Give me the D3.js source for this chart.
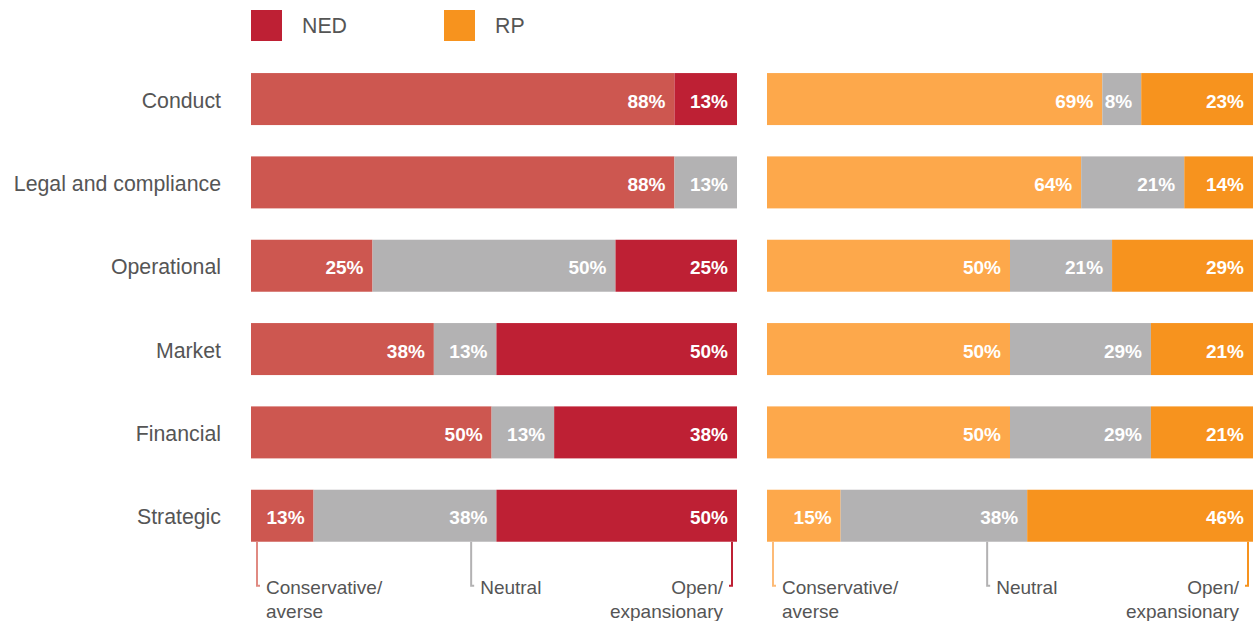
<!DOCTYPE html>
<html>
<head>
<meta charset="utf-8">
<script src="https://cdn.jsdelivr.net/npm/d3@7"></script>
<style>
  html, body { margin: 0; padding: 0; background: #fff; }
  svg { display: block; font-family: "Liberation Sans", Arial, Helvetica, sans-serif; }
</style>
</head>
<body>
<svg id="chart" width="1259" height="621"></svg>
<script>
// Risk appetite by category, split into conservative / neutral / open shares
const categories = ["Conduct", "Legal and compliance", "Operational", "Market", "Financial", "Strategic"];
const groups = ["NED", "RP"];
const stances = ["conservative", "neutral", "open"];

const nedConservative = [88, 88, 25, 38, 50, 13];
const nedNeutral      = [0, 13, 50, 13, 13, 38];
const nedOpen         = [13, 0, 25, 50, 38, 50];

const rpConservative = [69, 64, 50, 50, 50, 15];
const rpNeutral      = [8, 21, 21, 29, 29, 38];
const rpOpen         = [23, 14, 29, 21, 21, 46];

const footLabels = [["Conservative/", "averse"], ["Neutral"], ["Open/", "expansionary"]];

const palette = {
  NED: { conservative: "#cd5750", neutral: "#b3b2b3", open: "#be2034",
         lines: ["#e08a82", "#b3b2b3", "#be2034"] },
  RP:  { conservative: "#fda84b", neutral: "#b3b2b3", open: "#f7931e",
         lines: ["#fdbb77", "#b3b2b3", "#f7931e"] }
};

const panels = [
  { key: "NED", x0: 251, x1: 737,
    rows: categories.map((c, i) => ({ category: c, conservative: nedConservative[i], neutral: nedNeutral[i], open: nedOpen[i] })) },
  { key: "RP", x0: 767, x1: 1253,
    rows: categories.map((c, i) => ({ category: c, conservative: rpConservative[i], neutral: rpNeutral[i], open: rpOpen[i] })) }
];

const svg = d3.select("#chart");
const textColor = "#555555";

const y = d3.scaleBand()
  .domain(categories)
  .range([57.4, 557.4])
  .paddingInner(0.376)
  .paddingOuter(0.188);

// Category labels
svg.append("g")
  .selectAll("text")
  .data(categories)
  .join("text")
  .attr("x", 221)
  .attr("y", d => y(d) + y.bandwidth() / 2 + 1)
  .attr("dy", "0.35em")
  .attr("text-anchor", "end")
  .attr("font-size", 21.3)
  .attr("fill", textColor)
  .text(d => d);

// Legend
const legend = svg.append("g");
groups.forEach((g, i) => {
  const lx = 251 + i * 193;
  legend.append("rect")
    .attr("x", lx).attr("y", 10).attr("width", 31).attr("height", 31)
    .attr("fill", palette[g].open);
  legend.append("text")
    .attr("x", lx + 51).attr("y", 26).attr("dy", "0.35em")
    .attr("font-size", 21.3).attr("fill", textColor)
    .text(g);
});

const stack = d3.stack().keys(stances).offset(d3.stackOffsetExpand);

panels.forEach(panel => {
  const x = d3.scaleLinear().domain([0, 1]).range([panel.x0, panel.x1]);
  const series = stack(panel.rows);
  const g = svg.append("g");

  series.forEach(s => {
    const segs = s.filter(d => d.data[s.key] > 0);
    g.selectAll(null)
      .data(segs)
      .join("rect")
      .attr("x", d => x(d[0]))
      .attr("y", d => y(d.data.category))
      .attr("width", d => x(d[1]) - x(d[0]))
      .attr("height", y.bandwidth())
      .attr("fill", palette[panel.key][s.key]);

    g.selectAll(null)
      .data(segs)
      .join("text")
      .attr("x", d => x(d[1]) - 9)
      .attr("y", d => y(d.data.category) + y.bandwidth() / 2 + 2)
      .attr("dy", "0.35em")
      .attr("text-anchor", "end")
      .attr("font-size", 19)
      .attr("font-weight", "bold")
      .attr("fill", "#ffffff")
      .text(d => d.data[s.key] + "%");
  });

  // Stance key beneath the bars
  const barBottom = y(categories[categories.length - 1]) + y.bandwidth();
  const lineEnd = barBottom + 44;
  const anchors = [x(0) + 6, x(0.453), x(1) - 5];

  anchors.forEach((ax, i) => {
    const col = palette[panel.key].lines[i];
    const dir = i === 2 ? -1 : 1;
    g.append("path")
      .attr("d", `M${ax},${barBottom}V${lineEnd}h${dir * 3}`)
      .attr("fill", "none")
      .attr("stroke", col)
      .attr("stroke-width", 2);
    const t = g.append("text")
      .attr("text-anchor", i === 2 ? "end" : "start")
      .attr("font-size", 19)
      .attr("fill", textColor);
    footLabels[i].forEach((line, j) => {
      t.append("tspan")
        .attr("x", ax + dir * 9)
        .attr("y", lineEnd + 8 + j * 24)
        .text(line);
    });
  });
});
</script>
</body>
</html>
